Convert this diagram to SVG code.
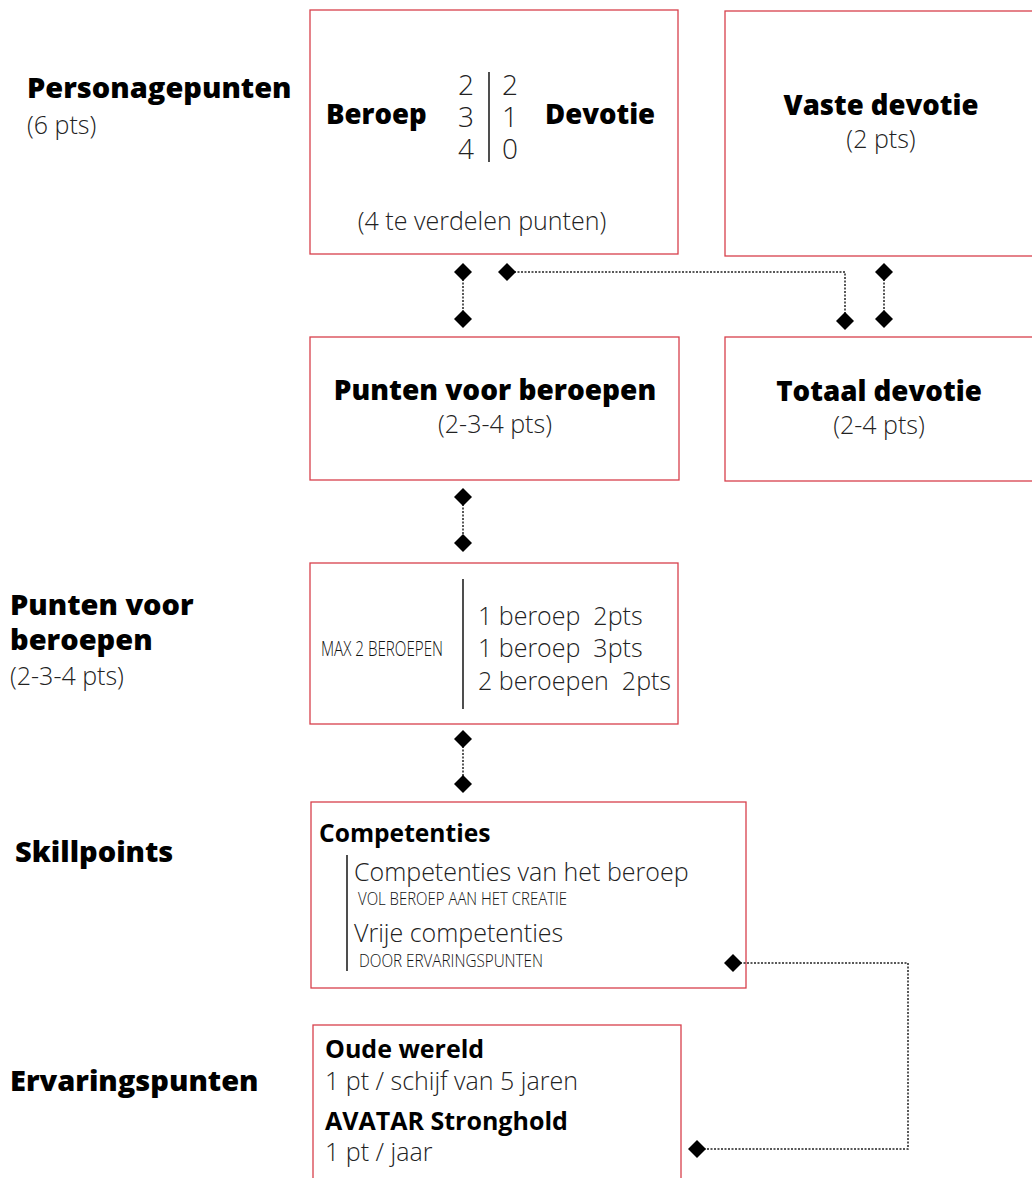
<svg xmlns="http://www.w3.org/2000/svg" width="1032" height="1178" viewBox="0 0 1032 1178">
<defs>
<style>
.box{fill:#fff;stroke:#d8404c;stroke-width:1.3}
.b{font-family:"Open Sans","Liberation Sans",sans-serif;font-weight:800;fill:#000}
.b7{font-family:"Open Sans","Liberation Sans",sans-serif;font-weight:700;fill:#000}
.l{font-family:"Open Sans","Liberation Sans",sans-serif;font-weight:300;fill:#222;white-space:pre}
.c{font-family:"Open Sans","Liberation Sans Narrow","Liberation Sans",sans-serif;font-weight:300;fill:#111}
.con{fill:none;stroke:#222;stroke-width:1.5;stroke-dasharray:2 1.5}
.sep{stroke:#222;stroke-width:1.6}
.d{fill:#000}
</style>
<path id="dia" d="M0,-9 L9,0 L0,9 L-9,0 Z"/>
</defs>
<rect width="1032" height="1178" fill="#fff"/>

<g id="left-labels">
<text class="b" x="27" y="98" font-size="29">Personagepunten</text>
<text class="l" x="27" y="134" font-size="25">(6 pts)</text>
<text class="b" x="10" y="615" font-size="29">Punten voor</text>
<text class="b" x="10" y="650" font-size="29">beroepen</text>
<text class="l" x="10" y="685" font-size="25">(2-3-4 pts)</text>
<text class="b" x="15" y="862" font-size="29">Skillpoints</text>
<text class="b" x="10" y="1091" font-size="29">Ervaringspunten</text>
</g>

<g id="node-verdeling">
<rect class="box" x="310" y="10" width="368" height="244"/>
<text class="b" x="326" y="124" font-size="27.5">Beroep</text>
<text class="l" x="466" y="95" font-size="28" text-anchor="middle">2</text>
<text class="l" x="466" y="127" font-size="28" text-anchor="middle">3</text>
<text class="l" x="466" y="159" font-size="28" text-anchor="middle">4</text>
<line class="sep" x1="489" y1="72" x2="489" y2="162"/>
<text class="l" x="510" y="95" font-size="28" text-anchor="middle">2</text>
<text class="l" x="510" y="127" font-size="28" text-anchor="middle">1</text>
<text class="l" x="510" y="159" font-size="28" text-anchor="middle">0</text>
<text class="b" x="545" y="124" font-size="27.5">Devotie</text>
<text class="l" x="482" y="230" font-size="25" text-anchor="middle">(4 te verdelen punten)</text>
</g>

<g id="node-vaste-devotie">
<rect class="box" x="725" y="11" width="320" height="245"/>
<text class="b" x="881" y="115" font-size="27.5" text-anchor="middle">Vaste devotie</text>
<text class="l" x="881" y="148" font-size="25" text-anchor="middle">(2 pts)</text>
</g>

<g id="node-punten-beroepen">
<rect class="box" x="310" y="337" width="369" height="143"/>
<text class="b" x="495" y="400" font-size="28" text-anchor="middle">Punten voor beroepen</text>
<text class="l" x="495" y="433" font-size="25" text-anchor="middle">(2-3-4 pts)</text>
</g>

<g id="node-totaal-devotie">
<rect class="box" x="725" y="337" width="320" height="144"/>
<text class="b" x="879" y="401" font-size="27.7" text-anchor="middle">Totaal devotie</text>
<text class="l" x="879" y="434" font-size="25" text-anchor="middle">(2-4 pts)</text>
</g>

<g id="node-max-beroepen">
<rect class="box" x="310" y="563" width="368" height="161"/>
<text class="c" x="321" y="656" font-size="21" textLength="122" lengthAdjust="spacingAndGlyphs">MAX 2 BEROEPEN</text>
<line class="sep" x1="463" y1="579" x2="463" y2="709"/>
<text class="l" x="478" y="625" font-size="25">1 beroep  2pts</text>
<text class="l" x="478" y="657" font-size="25">1 beroep  3pts</text>
<text class="l" x="478" y="690" font-size="25">2 beroepen  2pts</text>
</g>

<g id="node-competenties">
<rect class="box" x="311" y="802" width="435" height="186"/>
<text class="b7" x="319" y="842" font-size="24.6">Competenties</text>
<line class="sep" x1="347" y1="855" x2="347" y2="971"/>
<text class="l" x="354" y="881" font-size="25">Competenties van het beroep</text>
<text class="c" x="358" y="905" font-size="18.5" textLength="209" lengthAdjust="spacingAndGlyphs">VOL BEROEP AAN HET CREATIE</text>
<text class="l" x="354" y="942" font-size="25">Vrije competenties</text>
<text class="c" x="359" y="967" font-size="18.5" textLength="184" lengthAdjust="spacingAndGlyphs">DOOR ERVARINGSPUNTEN</text>
</g>

<g id="node-ervaringspunten">
<rect class="box" x="313" y="1025" width="368" height="170"/>
<text class="b7" x="325" y="1058" font-size="25">Oude wereld</text>
<text class="l" x="325" y="1090" font-size="25">1 pt / schijf van 5 jaren</text>
<text class="b7" x="325" y="1130" font-size="25">AVATAR Stronghold</text>
<text class="l" x="325" y="1161" font-size="25">1 pt / jaar</text>
</g>

<g id="connectors">
<path class="con" d="M463,272 V319"/>
<path class="con" d="M507,272 H845 V321"/>
<path class="con" d="M884,272 V319"/>
<path class="con" d="M463,497 V543"/>
<path class="con" d="M463,739 V784"/>
<path class="con" d="M733,963 H908 V1149 H697"/>
<use href="#dia" class="d" x="463" y="272"/>
<use href="#dia" class="d" x="463" y="319"/>
<use href="#dia" class="d" x="507" y="272"/>
<use href="#dia" class="d" x="845" y="321"/>
<use href="#dia" class="d" x="884" y="272"/>
<use href="#dia" class="d" x="884" y="319"/>
<use href="#dia" class="d" x="463" y="497"/>
<use href="#dia" class="d" x="463" y="543"/>
<use href="#dia" class="d" x="463" y="739"/>
<use href="#dia" class="d" x="463" y="784"/>
<use href="#dia" class="d" x="733" y="963"/>
<use href="#dia" class="d" x="697" y="1149"/>
</g>
</svg>
